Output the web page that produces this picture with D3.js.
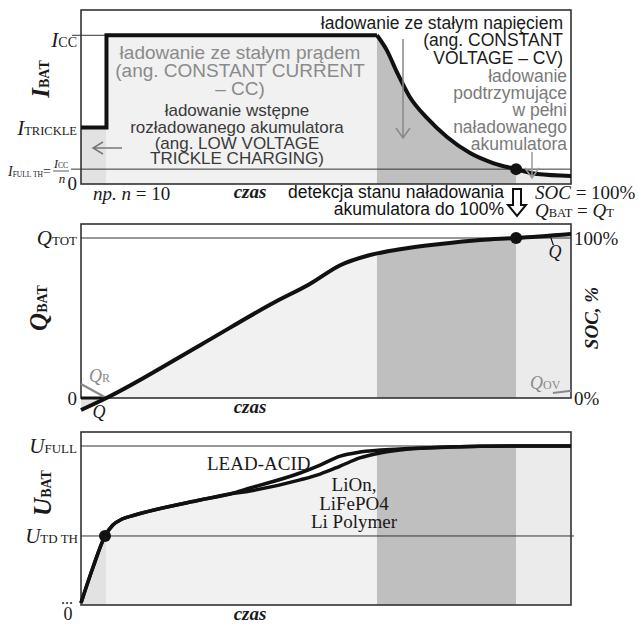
<!DOCTYPE html>
<html>
<head>
<meta charset="utf-8">
<script src="https://cdn.jsdelivr.net/npm/d3@7"></script>
<style>
body { margin: 0; background: #fff; }
svg { display: block; }
</style>
</head>
<body>
<svg id="chart" width="638" height="625"></svg>
<script>
// charging phases on a 0..100 time axis: trickle, CC, CV, float
var phaseEdges = [0, 5.2, 60.4, 88.8, 100];
var phaseFill = ["#e2e2e2", "#f1f1f1", "#bfbfbf", "#ebebeb"];

// panel 1 - current, relative to I_CC
var levelCC = 1, levelTrickle = 0.38, levelFull = 0.1;
var stepT = [0, 5.2, 5.2, 60.4];
var stepI = [0.38, 0.38, 1, 1];
var decayT = [60.4, 62.4, 64.5, 67.1, 70.6, 74.7, 79.4, 84.1, 88.8, 93.1, 100];
var decayI = [1, 0.90, 0.75, 0.585, 0.444, 0.316, 0.208, 0.141, 0.1, 0.067, 0.054];

// panel 2 - charge, relative to Q_TOT
var chargeT = [0, 5.2, 24.3, 39.6, 46.7, 52.9, 59.0, 65.1, 73.3, 81.4, 88.8, 100];
var chargeQ = [-0.075, 0, 0.33, 0.6, 0.7125, 0.83, 0.894, 0.93, 0.9625, 0.9875, 1.0, 1.025];
var qrT = [0, 5.2], qrQ = [0.0875, 0];
var qovT = [96.3, 100], qovQ = [0.031, 0.045];

// panel 3 - voltage (0..100 of the plotted range)
var commonT = [0, 2.4, 4.9, 6.5, 8.4, 11.0, 24.3, 30.4];
var commonU = [1.2, 21.4, 39.9, 46.2, 49.7, 52.0, 60.7, 64.2];
var leadT = [34.5, 44.7, 48.8, 52.9, 56.9, 65.1, 75.3, 89.6, 100];
var leadU = [67.6, 76.3, 80.9, 86.1, 88.4, 90.2, 91.3, 91.9, 91.9];
var liT = [34.5, 44.7, 48.8, 52.9, 56.9, 61.0, 65.1, 75.3, 89.6, 100];
var liU = [65.9, 72.3, 75.7, 80.3, 85.0, 87.9, 89.6, 91.3, 91.9, 91.9];
var uFull = 91.9, uTd = 39.9;

var SERIF = "'Liberation Serif', 'Times New Roman', serif";
var SANS = "'Liberation Sans', Arial, sans-serif";

var svg = d3.select("#chart");
var defs = svg.append("defs");

var zip = function (a, b) { return a.map(function (v, i) { return [v, b[i]]; }); };

var x = d3.scaleLinear().domain([0, 100]).range([81, 571]);
var yI = d3.scaleLinear().domain([0, 1.17]).range([184, 10]);
var yQ = d3.scaleLinear().domain([0, 1.0875]).range([398, 224]);
var yU = d3.scaleLinear().domain([0, 100]).range([605, 432]);

function lineOf(y, curve) {
    return d3.line().x(function (d) { return x(d[0]); }).y(function (d) { return y(d[1]); }).curve(curve);
}
function areaOf(y, curve) {
    return d3.area().x(function (d) { return x(d[0]); }).y0(y(0)).y1(function (d) { return y(d[1]); }).curve(curve);
}

// fill the phase bands, clipped to the area under the curve
function shade(id, paths, yTop, yBot) {
    var cp = defs.append("clipPath").attr("id", id);
    paths.forEach(function (p) { cp.append("path").attr("d", p); });
    svg.append("g").attr("clip-path", "url(#" + id + ")")
        .selectAll("rect").data(d3.range(phaseFill.length)).join("rect")
        .attr("x", function (i) { return x(phaseEdges[i]); })
        .attr("width", function (i) { return x(phaseEdges[i + 1]) - x(phaseEdges[i]); })
        .attr("y", yTop).attr("height", yBot - yTop)
        .attr("fill", function (i) { return phaseFill[i]; });
}

function hline(x0, x1, yy, w, col) {
    svg.append("line").attr("x1", x0).attr("x2", x1).attr("y1", yy).attr("y2", yy)
        .attr("stroke", col || "#333").attr("stroke-width", w || 1);
}

function frame(y) {
    svg.append("rect").attr("x", x(0)).attr("y", y.range()[1])
        .attr("width", x(100) - x(0)).attr("height", y.range()[0] - y.range()[1])
        .attr("fill", "none").attr("stroke", "#333").attr("stroke-width", 1.6);
}

function dot(cx, cy) {
    svg.append("circle").attr("cx", cx).attr("cy", cy).attr("r", 6).attr("fill", "#111");
}

// text with subscripts; kinds: i italic, b bold, s subscript, r regular
function rich(x0, y0, parts, opt) {
    var t = svg.append("text").attr("x", x0).attr("y", y0)
        .attr("font-family", opt.font || SERIF).attr("font-size", opt.size)
        .attr("text-anchor", opt.anchor || "start").attr("fill", opt.fill || "#1a1a1a");
    if (opt.rotate) t.attr("transform", "rotate(-90 " + x0 + " " + y0 + ")");
    var shift = 0;
    parts.forEach(function (p) {
        var sp = t.append("tspan").text(p[0]);
        var sub = p[1].indexOf("s") >= 0;
        var want = sub ? (opt.subDy || 0) : 0;
        if (want !== shift) { sp.attr("dy", want - shift); shift = want; }
        sp.attr("font-size", sub ? opt.subSize : opt.size);
        if (p[1].indexOf("i") >= 0) sp.attr("font-style", "italic");
        if (p[1].indexOf("b") >= 0) sp.attr("font-weight", "bold");
    });
    return t;
}

function block(lines, x0, baselines, opt) {
    lines.forEach(function (s, i) {
        svg.append("text").attr("x", x0).attr("y", baselines[i])
            .attr("font-family", SANS).attr("font-size", opt.size)
            .attr("text-anchor", opt.anchor).attr("fill", opt.fill).text(s);
    });
}

function arrowDown(xx, y0, y1, col) {
    svg.append("path").attr("d", "M" + xx + "," + y0 + "V" + y1 + "M" + (xx - 7) + "," + (y1 - 10) + "L" + xx + "," + y1 + "L" + (xx + 7) + "," + (y1 - 10))
        .attr("fill", "none").attr("stroke", col).attr("stroke-width", 1.5);
}

// ---------- panel 1: current ----------
shade("clipI", [
    areaOf(yI, d3.curveLinear)(zip(stepT, stepI)),
    areaOf(yI, d3.curveMonotoneX)(zip(decayT, decayI))
], yI.range()[1], yI.range()[0]);

hline(72, x(5.2), yI(levelCC));
hline(71, x(100), yI(levelFull));
frame(yI);
svg.append("path").attr("d", lineOf(yI, d3.curveLinear)(zip(stepT, stepI)))
    .attr("fill", "none").attr("stroke", "#111").attr("stroke-width", 4).attr("stroke-linejoin", "miter");
svg.append("path").attr("d", lineOf(yI, d3.curveMonotoneX)(zip(decayT, decayI)))
    .attr("fill", "none").attr("stroke", "#111").attr("stroke-width", 4);
dot(x(88.8), yI(levelFull));

block(["ładowanie ze stałym prądem", "(ang. CONSTANT CURRENT", "– CC)"], 240, [59, 77, 95],
    { size: 19, anchor: "middle", fill: "#8a8a8a" });
block(["ładowanie wstępne", "rozładowanego akumulatora", "(ang. LOW VOLTAGE", "TRICKLE CHARGING)"], 237, [116, 133, 149, 164],
    { size: 17, anchor: "middle", fill: "#3a3a3a" });
block(["ładowanie ze stałym napięciem", "(ang. CONSTANT", "VOLTAGE – CV)"], 563, [29, 46, 64],
    { size: 17.5, anchor: "end", fill: "#1a1a1a" });
block(["ładowanie", "podtrzymujące", "w pełni", "naładowanego", "akumulatora"], 567, [82, 99, 116, 133, 150],
    { size: 17.5, anchor: "end", fill: "#7a7a7a" });

arrowDown(403, 39, 138, "#888");
arrowDown(532, 152, 178, "#999");
svg.append("path").attr("d", "M122,148H93M103,142L93,148L103,154")
    .attr("fill", "none").attr("stroke", "#777").attr("stroke-width", 1.5);

rich(49, 79, [["I", "bi"], ["BAT", "bs"]], { size: 25, subSize: 14, anchor: "middle", rotate: true });
rich(77, 47, [["I", "i"], ["CC", "s"]], { size: 21, subSize: 14 ,anchor: "end" });
rich(77, 135, [["I", "i"], ["TRICKLE", "s"]], { size: 21, subSize: 12.5, anchor: "end" });
rich(8, 176, [["I", "i"], ["FULL TH", "s"], ["=", "r"]], { size: 14, subSize: 7.5, subDy: 1 });
rich(61, 168, [["I", "i"], ["CC", "s"]], { size: 12, subSize: 7.5, anchor: "middle" });
hline(53, 69, 171, 0.8);
rich(62, 183, [["n", "i"]], { size: 13, anchor: "middle" });
rich(77, 190, [["0", "r"]], { size: 19, anchor: "end" });
rich(93, 200, [["np. n", "i"], [" = 10", "r"]], { size: 19 });
rich(250, 198, [["czas", "bi"]], { size: 19, anchor: "middle" });

// between panels
block(["detekcja stanu naładowania", "akumulatora do 100%"], 504, [198, 215],
    { size: 17.5, anchor: "end", fill: "#111" });
svg.append("path").attr("d", "M513,189H521V205H526L517,216L508,205H513Z")
    .attr("fill", "#fff").attr("stroke", "#111").attr("stroke-width", 2).attr("stroke-linejoin", "miter");
rich(535, 199, [["SOC", "i"], [" = 100%", "r"]], { size: 19 });
rich(535, 217, [["Q", "i"], ["BAT", "s"], [" = ", "r"], ["Q", "i"], ["T", "s"]], { size: 19, subSize: 12.5 });

// ---------- panel 2: charge ----------
shade("clipQ", [areaOf(yQ, d3.curveMonotoneX)(zip(chargeT, chargeQ))], yQ.range()[1], yQ(-0.1));
hline(x(0), x(100), yQ(1));
frame(yQ);
hline(x(0), x(5.2), yQ(0), 3, "#111");
svg.append("path").attr("d", lineOf(yQ, d3.curveLinear)(zip(qrT, qrQ)))
    .attr("fill", "none").attr("stroke", "#888").attr("stroke-width", 2);
svg.append("path").attr("d", lineOf(yQ, d3.curveLinear)(zip(qovT, qovQ)))
    .attr("fill", "none").attr("stroke", "#888").attr("stroke-width", 2);
svg.append("path").attr("d", lineOf(yQ, d3.curveMonotoneX)(zip(chargeT, chargeQ)))
    .attr("fill", "none").attr("stroke", "#111").attr("stroke-width", 4);
dot(x(88.8), yQ(1));
svg.append("path").attr("d", "M" + x(95.8) + "," + yQ(1.01) + "L" + x(96.4) + "," + yQ(0.955))
    .attr("fill", "none").attr("stroke", "#111").attr("stroke-width", 1.2);

rich(47, 308, [["Q", "bi"], ["BAT", "bs"]], { size: 25, subSize: 14, anchor: "middle", rotate: true });
rich(77, 245, [["Q", "i"], ["TOT", "s"]], { size: 21, subSize: 13, anchor: "end" });
rich(77, 405, [["0", "r"]], { size: 19, anchor: "end" });
rich(89, 382, [["Q", "i"], ["R", "s"]], { size: 18, subSize: 12, fill: "#8a8a8a" });
rich(99, 418, [["Q", "i"]], { size: 18, anchor: "middle" });
rich(555, 258, [["Q", "i"]], { size: 18, anchor: "middle" });
rich(530, 389, [["Q", "i"], ["OV", "s"]], { size: 18, subSize: 12, fill: "#8a8a8a" });
rich(574, 245, [["100%", "r"]], { size: 19 });
rich(574, 405, [["0%", "r"]], { size: 19 });
rich(598, 318, [["SOC, %", "bi"]], { size: 19, anchor: "middle", rotate: true });
rich(250, 413, [["czas", "bi"]], { size: 19, anchor: "middle" });

// ---------- panel 3: voltage ----------
var leadPts = zip(commonT, commonU).concat(zip(leadT, leadU));
var liPts = zip(commonT, commonU).concat(zip(liT, liU));
shade("clipU", [areaOf(yU, d3.curveMonotoneX)(liPts)], yU.range()[1], yU.range()[0]);
hline(x(0), x(100), yU(uFull));
hline(x(0), x(100) + 3, yU(uTd));
frame(yU);
[leadPts, liPts].forEach(function (pts) {
    svg.append("path").attr("d", lineOf(yU, d3.curveMonotoneX)(pts))
        .attr("fill", "none").attr("stroke", "#111").attr("stroke-width", 3.5);
});
dot(x(4.9), yU(uTd));

rich(51, 493, [["U", "bi"], ["BAT", "bs"]], { size: 25, subSize: 14, anchor: "middle", rotate: true });
rich(77, 453, [["U", "i"], ["FULL", "s"]], { size: 21, subSize: 13, anchor: "end" });
rich(78, 543, [["U", "i"], ["TD TH", "s"]], { size: 21, subSize: 13, anchor: "end" });
rich(73, 604, [["...", "r"]], { size: 16, anchor: "end" });
rich(68, 620, [["0", "r"]], { size: 18, anchor: "middle" });
rich(207, 470, [["LEAD-ACID", "r"]], { size: 19 });
rich(354, 491, [["LiOn,", "r"]], { size: 19, anchor: "middle" });
rich(354, 510, [["LiFePO4", "r"]], { size: 19, anchor: "middle" });
rich(354, 528, [["Li Polymer", "r"]], { size: 19, anchor: "middle" });
rich(250, 620, [["czas", "bi"]], { size: 19, anchor: "middle" });
</script>
</body>
</html>
